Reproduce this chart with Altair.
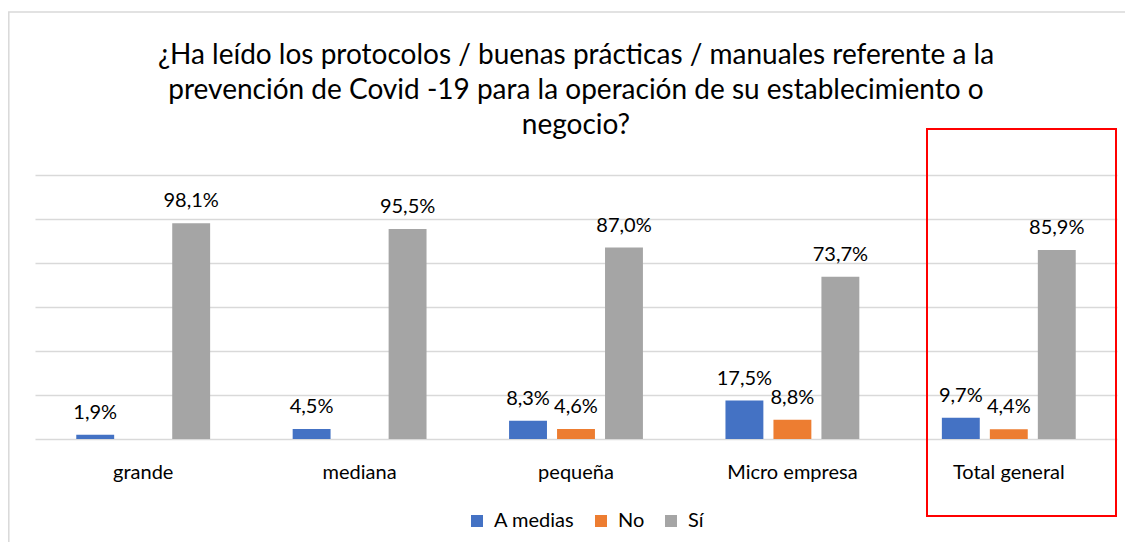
import altair as alt
import pandas as pd

categories = ["grande", "mediana", "pequeña", "Micro empresa", "Total general"]
series = ["A medias", "No", "Sí"]
a_medias = [1.9, 4.5, 8.3, 17.5, 9.7]
no_vals = [None, None, 4.6, 8.8, 4.4]
si_vals = [98.1, 95.5, 87.0, 73.7, 85.9]
colors = ["#4472C4", "#ED7D31", "#A5A5A5"]
title_lines = [
    "¿Ha leído los protocolos / buenas prácticas / manuales referente a la",
    "prevención de Covid -19 para la operación de su establecimiento o",
    "negocio?",
]

rows = []
for s, vals in zip(series, [a_medias, no_vals, si_vals]):
    for c, v in zip(categories, vals):
        if v is None:
            continue
        rows.append({"cat": c, "serie": s, "valor": v,
                     "etiqueta": f"{v:.1f}".replace(".", ",") + "%"})
df = pd.DataFrame(rows)

FONT = "Lato"
FS = 20
W, H = 1082, 264

x_enc = alt.X("cat:N", sort=categories,
              scale=alt.Scale(paddingInner=0, paddingOuter=0),
              axis=alt.Axis(title=None, labelAngle=0, domain=False, ticks=False, tickSize=0,
                            labelPadding=23, labelFontSize=FS, labelFont=FONT,
                            labelColor="#000000", grid=False))
xo_enc = alt.XOffset("serie:N", sort=series,
                     scale=alt.Scale(domain=series, paddingInner=0.21, paddingOuter=0.86))
y_enc = alt.Y("valor:Q", scale=alt.Scale(domain=[0, 120], nice=False),
              axis=alt.Axis(title=None, values=[0, 20, 40, 60, 80, 100, 120], labels=False,
                            ticks=False, domain=False, grid=True, gridColor="#D9D9D9",
                            gridWidth=1.6))

bars = alt.Chart(df).mark_bar().encode(
    x=x_enc, xOffset=xo_enc, y=y_enc,
    color=alt.Color("serie:N", sort=series,
                    scale=alt.Scale(domain=series, range=colors),
                    legend=alt.Legend(title=None, orient="none", direction="horizontal",
                                      legendX=432, legendY=336, padding=0,
                                      symbolType="square", symbolSize=144,
                                      symbolStrokeWidth=0, labelFontSize=FS,
                                      labelFont=FONT, labelColor="#000000",
                                      labelOffset=7, columnPadding=16)),
)

labels = alt.Chart(df).mark_text(baseline="alphabetic", dy=-16, fontSize=FS,
                                 font=FONT, color="#000000").encode(
    x=alt.X("cat:N", sort=categories), xOffset=alt.XOffset("serie:N", sort=series),
    y=alt.Y("valor:Q"), text="etiqueta:N",
)

one = alt.Data(values=[{}])

title = alt.Chart(one).mark_text(fontSize=28, font=FONT, color="#000000",
                                 align="center", baseline="alphabetic",
                                 lineHeight=35).encode(
    x=alt.value(541), y=alt.value(-111), text=alt.value(title_lines))

border = alt.Chart(one).mark_rect(fill=None, stroke="#D9D9D9", strokeWidth=1.5).encode(
    x=alt.value(-26.2), x2=alt.value(1300), y=alt.value(-163), y2=alt.value(600))

redbox = alt.Chart(one).mark_rect(fill=None, stroke="#FF0000", strokeWidth=2).encode(
    x=alt.value(892), x2=alt.value(1081), y=alt.value(-46), y2=alt.value(341))

chart = alt.layer(border, bars, labels, title, redbox).properties(
    width=W, height=H,
    background="white",
    autosize=alt.AutoSizeParams(type="none"),
    padding={"left": 27, "top": 167, "right": 8, "bottom": 103},
).configure_view(strokeWidth=0, stroke=None)

chart.save("out.html", embed_options={"renderer": "svg", "actions": False})
